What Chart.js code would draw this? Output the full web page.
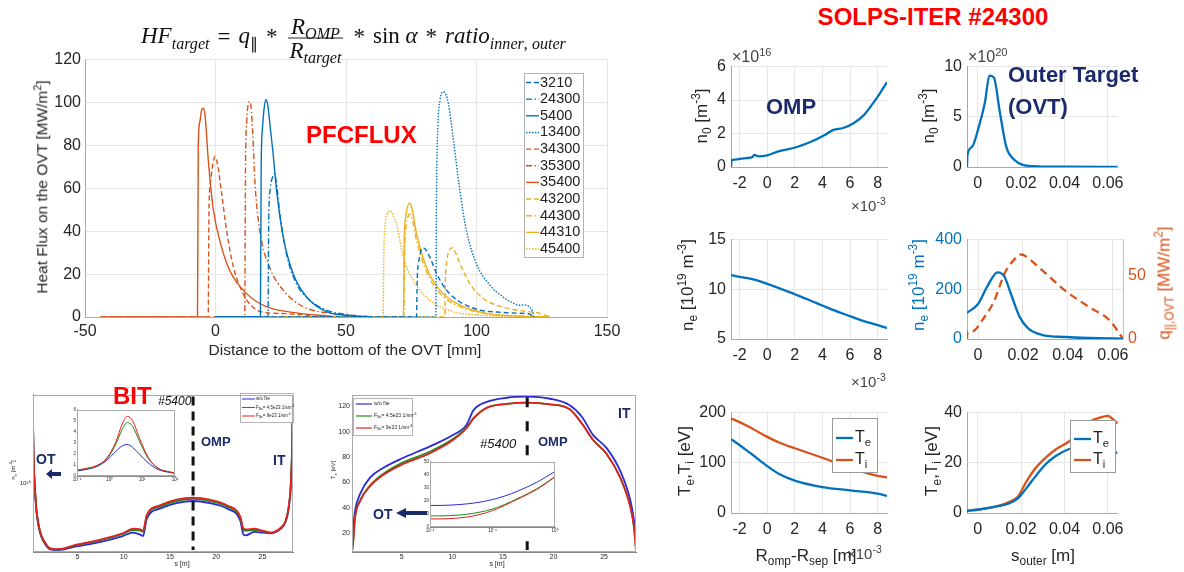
<!DOCTYPE html>
<html>
<head>
<meta charset="utf-8">
<title>PFCFLUX / SOLPS-ITER #24300</title>
<script src="https://cdn.jsdelivr.net/npm/chart.js@4.4.1/dist/chart.umd.min.js"></script>
<style>
  body { margin: 0; width: 1184px; height: 572px; background: #fff; position: relative; overflow: hidden;
         font-family: "Liberation Sans", Arial, sans-serif; color: #262626; }
  canvas { position: absolute; }
  .t { position: absolute; white-space: nowrap; line-height: 1; z-index: 5; }
  .c { transform: translate(-50%, -50%); }
  .v { transform: translate(-50%, -50%) rotate(-90deg); }
  .lm { transform: translateY(-50%); }
  sub, sup { font-size: 70%; line-height: 0; }
  .navy { color: #1b2a6b; font-weight: bold; }
  .red { color: #f00; font-weight: bold; }
  .frac { display: inline-block; vertical-align: middle; text-align: center; margin: 0 2px; }
  .frac > span { display: block; padding: 0 2px; }
  .frac > span:first-child { border-bottom: 1.2px solid #222; }
  .op { display: inline-block; margin: 0 8px; font-style: normal; }
</style>
</head>
<body>
<canvas id="hf"></canvas>
<canvas id="bitNe"></canvas>
<canvas id="bitNeIn"></canvas>
<canvas id="bitTe"></canvas>
<canvas id="bitTeIn"></canvas>
<canvas id="r1l"></canvas>
<canvas id="r1r"></canvas>
<canvas id="r2l"></canvas>
<canvas id="r2r"></canvas>
<canvas id="r3l"></canvas>
<canvas id="r3r"></canvas>

<!-- main chart text -->
<div class="t lm" style="left:141px;top:38px;font-family:'Liberation Serif',serif;font-size:23px;color:#111">
  <i>HF</i><sub><i>target</i></sub><span class="op">=</span><i>q</i><sub>∥</sub><span class="op">*</span><span class="frac"><span><i>R</i><sub><i>OMP</i></sub></span><span><i>R</i><sub><i>target</i></sub></span></span><span class="op">*</span>sin <i>α</i><span class="op">*</span><i>ratio</i><sub><i>inner</i>, <i>outer</i></sub>
</div>
<div class="t lm red" style="left:306px;top:135px;font-size:24px">PFCFLUX</div>
<div class="t v" style="left:42px;top:187px;font-size:15.5px">Heat Flux on the OVT [MW/m<sup>2</sup>]</div>
<div class="t c" style="left:345px;top:350px;font-size:15.5px">Distance to the bottom of the OVT [mm]</div>

<!-- bottom-left panels text -->
<div class="t lm red" style="left:113px;top:396px;font-size:24px">BIT</div>
<div class="t lm" style="left:158px;top:401px;font-size:12px;font-style:italic;color:#111">#5400</div>
<div class="t lm navy" style="left:201px;top:441px;font-size:13px">OMP</div>
<div class="t lm navy" style="left:36px;top:459px;font-size:14px">OT</div>
<div class="t lm navy" style="left:273px;top:460px;font-size:14px">IT</div>
<svg class="t" style="left:46px;top:469px" width="15" height="10"><polygon points="0,5 6,0 6,3 15,3 15,7 6,7 6,10" fill="#1b2a6b"/></svg>
<div class="t v" style="left:13px;top:470px;font-size:6px">n<sub>e</sub> [m<sup>-3</sup>]</div>
<div class="t c" style="left:182px;top:563px;font-size:7px">s [m]</div>

<div class="t lm" style="left:480px;top:443px;font-size:13px;font-style:italic;color:#111">#5400</div>
<div class="t lm navy" style="left:538px;top:441px;font-size:13px">OMP</div>
<div class="t lm navy" style="left:618px;top:413px;font-size:14px">IT</div>
<div class="t lm navy" style="left:373px;top:514px;font-size:14px">OT</div>
<svg class="t" style="left:396px;top:508px" width="31" height="10"><polygon points="0,5 10,0 10,3 31,3 31,7 10,7 10,10" fill="#1b2a6b"/></svg>
<div class="t v" style="left:333px;top:470px;font-size:6px">T<sub>e</sub> [eV]</div>
<div class="t c" style="left:497px;top:563px;font-size:7px">s [m]</div>

<!-- right side text -->
<div class="t c red" style="left:933px;top:17px;font-size:24px">SOLPS-ITER #24300</div>
<div class="t lm navy" style="left:766px;top:107px;font-size:22px">OMP</div>
<div class="t lm navy" style="left:1008px;top:75px;font-size:22px">Outer Target</div>
<div class="t lm navy" style="left:1008px;top:107px;font-size:22px">(OVT)</div>
<div class="t lm" style="left:732px;top:57px;font-size:16px;color:#444">×10<sup>16</sup></div>
<div class="t lm" style="left:968px;top:57px;font-size:16px;color:#444">×10<sup>20</sup></div>
<div class="t lm" style="left:851px;top:205px;font-size:15px;color:#444">×10<sup>-3</sup></div>
<div class="t lm" style="left:851px;top:381px;font-size:15px;color:#444">×10<sup>-3</sup></div>
<div class="t lm" style="left:847px;top:553px;font-size:15px;color:#444">×10<sup>-3</sup></div>
<div class="t v" style="left:701px;top:116px;font-size:17px">n<sub>0</sub> [m<sup>-3</sup>]</div>
<div class="t v" style="left:928px;top:116px;font-size:17px">n<sub>0</sub> [m<sup>-3</sup>]</div>
<div class="t v" style="left:687px;top:285px;font-size:17px">n<sub>e</sub> [10<sup>19</sup> m<sup>-3</sup>]</div>
<div class="t v" style="left:918px;top:285px;font-size:17px;color:#0072BD">n<sub>e</sub> [10<sup>19</sup> m<sup>-3</sup>]</div>
<div class="t v" style="left:1164px;top:283px;font-size:17px;color:#D95319">q<sub>||,OVT</sub> [MW/m<sup>2</sup>]</div>
<div class="t v" style="left:684px;top:461px;font-size:17px">T<sub>e</sub>,T<sub>i</sub> [eV]</div>
<div class="t v" style="left:931px;top:461px;font-size:17px">T<sub>e</sub>,T<sub>i</sub> [eV]</div>
<div class="t c" style="left:806px;top:555px;font-size:17px">R<sub>omp</sub>-R<sub>sep</sub> [m]</div>
<div class="t c" style="left:1043px;top:555px;font-size:17px">s<sub>outer</sub> [m]</div>

<script>
const F = '"Liberation Sans", Arial, sans-serif';
const BLUE = '#0072BD', ORANGE = '#D95319', YELLOW = '#EDB120';
const NBLUE = '#2b2bd6', NGREEN = '#1d8a1d', NRED = '#e32020';

// ---------- PFCFLUX: heat flux on the OVT (x mm, y MW/m2) ----------
const hfXTicks = [-50, 0, 50, 100, 150];
const hfYTicks = [0, 20, 40, 60, 80, 100, 120];

const hfX_3210  = [0, 77.0, 77.3, 77.8, 78.5, 79.4, 80.5, 82.2, 84.8, 88.6, 93.7, 101.4, 108, 115, 120, 122];
const hfY_3210  = [0, 0, 18, 25, 30, 32.3, 31.5, 27.7, 20, 12.4, 7, 3.2, 2.3, 1.8, 1.5, 0];
const hfX_24300 = [0, 20.1, 20.4, 21.0, 21.8, 22.5, 23.3, 24.7, 27.2, 31, 36.2, 42.5, 50, 60];
const hfY_24300 = [0, 0, 45, 60, 65, 66.8, 63, 47.7, 29.3, 15.5, 7.8, 3.2, 1.2, 0];
const hfX_5400  = [0, 17.2, 17.5, 18.0, 18.7, 19.3, 20.0, 21.0, 22.0, 23.5, 26, 29.8, 34.9, 42.5, 50, 60];
const hfY_5400  = [0, 0, 70, 88, 98, 101.3, 99, 88, 77, 58, 37, 20, 9.3, 2.5, 0.8, 0];
const hfX_13400 = [0, 84.4, 84.7, 85.2, 86.0, 87.3, 88.3, 89.2, 91.1, 93.7, 96.2, 100, 105, 110, 114, 116.5, 118.5, 120.5, 121.5, 122];
const hfY_13400 = [0, 0, 60, 89, 101, 105, 103.5, 99.7, 83, 58.4, 40, 24.7, 15, 9.5, 6.5, 5.5, 5.6, 4.5, 2.5, 0];
const hfX_34300 = [-44, -2.8, -2.5, -1.8, -0.9, -0.2, 0.8, 2.2, 4.3, 6.9, 9.4, 12, 15.8, 19.6, 28, 40];
const hfY_34300 = [0, 0, 50, 64, 72, 74.8, 71, 59, 40, 23, 14, 7.8, 3.2, 2, 1.5, 0.2];
const hfX_35300 = [-44, 11.2, 11.5, 12.0, 12.5, 13.0, 13.6, 14.3, 15.1, 17.0, 20.8, 26, 33.6, 43.8, 55];
const hfY_35300 = [0, 0, 70, 92, 99, 100.5, 98, 85, 63, 40, 23, 12.4, 4.8, 1.7, 0.3];
const hfX_35400 = [-44, -6.9, -6.6, -6.0, -5.3, -4.7, -4.0, -2.8, -0.9, 1.7, 5.5, 11.9, 19.5, 32.3, 45];
const hfY_35400 = [0, 0, 80, 91, 96.5, 97.3, 94, 73.7, 50.7, 35.4, 21.6, 10.9, 4.8, 1.7, 0.3];
const hfX_43200 = [0, 87.8, 88.1, 88.6, 89.4, 90.7, 92, 93.7, 97.5, 102.6, 107.7, 114, 120, 124, 128];
const hfY_43200 = [0, 0, 18, 26, 30.5, 32.3, 30, 24.7, 15.5, 8.6, 5.5, 3.5, 2.5, 1.8, 0];
const hfX_44300 = [0, 72.2, 72.5, 73.0, 73.7, 74.4, 75.3, 77.1, 80.9, 86, 93.7, 103.9, 115, 128];
const hfY_44300 = [0, 0, 32, 42, 46.5, 48, 46, 35.4, 21, 11, 4.8, 1.5, 0.5, 0];
const hfX_44310 = [0, 72.0, 72.3, 72.8, 73.5, 74.3, 75.2, 77.1, 80.9, 86, 93.7, 103.9, 115, 128];
const hfY_44310 = [0, 0, 35, 46, 51, 53, 51, 38.5, 23, 12.4, 5.5, 1.7, 0.5, 0];
const hfX_45400 = [0, 64.2, 64.5, 65.0, 65.8, 66.9, 68.0, 69.4, 72, 75.8, 82.2, 91, 100, 110, 128];
const hfY_45400 = [0, 0, 30, 43, 48, 49.5, 47.5, 43, 27.7, 17, 7.8, 2.5, 1, 0.3, 0];

// ---------- BIT #5400 (s in m) ----------
const bitLabels = ['w/o Ne', 'F_{Ne}= 4.5e23 1/sm^{-3}', 'F_{Ne}= 9e23 1/sm^{-3}'];
const neS = [0.2, 0.27, 0.4, 0.56, 0.8, 1.1, 1.55, 2.0, 2.9, 4.9, 7.4, 9.9, 11.0, 11.8, 12.1, 12.5, 13.9, 15.7, 17.5,
             19.3, 21.2, 22.6, 22.95, 23.2, 24.1, 25.0, 25.9, 27.0, 27.5, 27.8, 28.05, 28.2, 28.3];
const neNoNe = [3.55, 1.55, 0.92, 0.58, 0.42, 0.34, 0.29, 0.265, 0.26, 0.28, 0.305, 0.345, 0.37, 0.355, 0.345, 0.49, 0.6, 0.67, 0.70,
                0.67, 0.6, 0.47, 0.355, 0.35, 0.375, 0.37, 0.365, 0.4, 0.46, 0.58, 0.9, 1.9, 5.8];
const neNe45 = [3.6, 1.6, 0.94, 0.59, 0.43, 0.345, 0.295, 0.268, 0.263, 0.287, 0.316, 0.36, 0.39, 0.385, 0.375, 0.515, 0.625, 0.70, 0.73,
                0.70, 0.625, 0.5, 0.39, 0.385, 0.39, 0.38, 0.368, 0.405, 0.465, 0.59, 0.93, 1.95, 5.9];
const neNe9 = [3.64, 1.63, 0.95, 0.6, 0.44, 0.35, 0.3, 0.27, 0.265, 0.29, 0.32, 0.365, 0.4, 0.395, 0.385, 0.53, 0.64, 0.72, 0.75,
               0.72, 0.64, 0.51, 0.4, 0.395, 0.4, 0.385, 0.37, 0.41, 0.47, 0.6, 0.95, 2.0, 6.0];
const neInX = [0.1, 0.2, 0.4, 0.8, 1.5, 2.5, 3.5, 5, 8, 15, 30, 60, 100];
const neInNoNe = [0.45, 0.6, 0.85, 1.4, 2.2, 2.75, 2.85, 2.6, 2.0, 1.2, 0.6, 0.35, 0.25];
const neInNe45 = [0.5, 0.65, 0.9, 1.5, 2.8, 4.3, 4.85, 4.5, 3.2, 1.6, 0.7, 0.4, 0.28];
const neInNe9 = [0.55, 0.7, 0.95, 1.6, 3.0, 4.8, 5.4, 5.0, 3.5, 1.7, 0.72, 0.4, 0.28];

const teS = [0.09, 0.2, 0.39, 0.88, 1.87, 3.2, 5.0, 7.8, 10.1, 11.4, 12.1, 13.4, 15.4, 17.35, 19.65, 21.6, 22.8, 23.9, 25.25, 26.6, 27.6, 27.95, 28.15];
const teNoNe = [17, 24, 37.7, 50.7, 63.7, 71.5, 78.8, 88.4, 97.5, 105.3, 117, 123.5, 126.8, 127.6, 126, 120.9, 111.8, 97.5, 87, 68.9, 45.5, 30, 17];
const teNe45 = [5.5, 13, 32.5, 45.5, 57.5, 66.8, 75.2, 84.3, 94.4, 103, 110.7, 118.9, 122, 123, 121.6, 117.7, 106.5, 93.6, 82.4, 63.7, 40.3, 24.7, 6.5];
const teNe9 = [5, 12, 32, 45, 57, 66, 74, 83, 93.6, 102.7, 110.5, 118.8, 122, 123, 121.6, 117.7, 106.5, 93.6, 82.4, 63.7, 40.3, 24.7, 6.5];
const teInX = [0.01, 0.015, 0.02, 0.03, 0.05, 0.08, 0.12, 0.2, 0.3, 0.5, 0.7, 1.0];
const teInNoNe = [16.5, 16.5, 16.7, 17.2, 18.3, 20, 22, 25.5, 29, 34, 38, 42.5];
const teInNe45 = [8.5, 8.5, 8.7, 9.2, 10.5, 12.5, 15, 19.5, 23.5, 29, 33.5, 38.5];
const teInNe9 = [6.2, 6.2, 6.4, 7, 8.5, 11, 14, 19, 23, 28.5, 33, 38.5];

// ---------- SOLPS-ITER #24300 ----------
const ompXTicks = [-2, 0, 2, 4, 6, 8];          // x 1e-3 m
const ovtXTicks = [0, 0.02, 0.04, 0.06];        // m
const n0OmpX = [-2.62, -2.58, -2.5, -2.0, -1.5, -1.06, -0.95, -0.6, 0, 0.87, 2.1, 3.3, 4.1, 4.8, 5.5, 6.26, 7.0, 7.7, 8.2, 8.68];
const n0OmpY = [0, 0.4, 0.43, 0.48, 0.53, 0.6, 0.72, 0.64, 0.7, 0.95, 1.18, 1.55, 1.88, 2.22, 2.33, 2.62, 3.1, 3.85, 4.45, 5.07];
const n0OvtX = [-0.0049, -0.0047, -0.0026, 0.0004, 0.0034, 0.0054, 0.0075, 0.0102, 0.0132, 0.017, 0.0208, 0.028, 0.04, 0.0645];
const n0OvtY = [0, 1.2, 2.0, 3.9, 6.5, 9.1, 8.9, 5.5, 2.0, 0.7, 0.22, 0.07, 0.03, 0.02];
const neOmpX = [-2.62, -2.5, -1, 0, 1, 2, 3, 4, 5, 6, 7, 8, 8.68];
const neOmpY = [11.45, 11.4, 11.0, 10.55, 10.05, 9.5, 8.95, 8.37, 7.8, 7.3, 6.8, 6.4, 6.1];
const neOvtX = [-0.0049, 0.0, 0.0042, 0.0087, 0.0117, 0.0147, 0.0185, 0.0223, 0.0283, 0.039, 0.05, 0.0645];
const neOvtY = [105, 141, 213, 268, 252, 180, 89, 43, 17, 8, 4, 1.3];
const qOvtX = [-0.0049, -0.0047, -0.0026, 0.0019, 0.0072, 0.0117, 0.0147, 0.0193, 0.0208, 0.0283, 0.0389, 0.0495, 0.0585, 0.0623, 0.0645];
const qOvtY = [0, 6, 5.9, 14.8, 30, 51, 59.4, 66.3, 65.3, 54.3, 37.8, 25, 14.8, 5.9, 0];
const tOmpX = [-2.62, -2.5, -1.06, 0, 0.9, 2, 4, 6, 8, 8.68];
const teOmp = [147, 145, 116, 93.5, 77, 64.5, 51.6, 45, 38.7, 34.2];
const tiOmp = [188, 187, 168, 151.6, 140, 129, 110, 90, 74, 71];
const tOvtX = [-0.0049, 0, 0.0087, 0.0147, 0.0185, 0.0223, 0.0268, 0.0313, 0.0358, 0.0419, 0.048, 0.0525, 0.0555, 0.06, 0.0623, 0.0645];
const teOvt = [0.9, 1.3, 2.6, 3.9, 5.8, 9.7, 14.8, 19.4, 22.6, 25.4, 26.5, 26.2, 25.8, 24.9, 24.4, 23.9];
const tiOvt = [0.9, 1.3, 2.6, 4.5, 6.5, 12.3, 18, 22, 25.2, 28.4, 32.9, 36.8, 37.8, 38.7, 37.4, 35.7];

// ---------- helpers ----------
const pts = (xs, ys) => xs.map((x, i) => ({ x: x, y: ys[i] }));

function line(label, xs, ys, color, width, dash, extra) {
  return Object.assign({
    label: label, data: pts(xs, ys), borderColor: color, backgroundColor: color,
    borderWidth: width, borderDash: dash || [], pointRadius: 0, fill: false,
    cubicInterpolationMode: 'monotone'
  }, extra || {});
}

// draws "T_{e}" / "m^{-3}" style labels on a canvas
function rich(ctx, s, x, y, size, color) {
  ctx.fillStyle = color; ctx.textBaseline = 'middle'; ctx.textAlign = 'left';
  s.split(/([_^]\{[^}]*\})/).forEach(p => {
    if (!p) return;
    let t = p, sz = size, dy = 0;
    if (p[1] === '{' && p[0] === '_') { t = p.slice(2, -1); sz = size * 0.7; dy = size * 0.3; }
    if (p[1] === '{' && p[0] === '^') { t = p.slice(2, -1); sz = size * 0.7; dy = -size * 0.35; }
    ctx.font = sz + 'px ' + F;
    ctx.fillText(t, x, y + dy);
    x += ctx.measureText(t).width;
  });
}

const whiteBg = {
  id: 'whiteBg',
  beforeDraw(chart, args, o) {
    if (!o.on) return;
    chart.ctx.save(); chart.ctx.fillStyle = '#fff';
    chart.ctx.fillRect(0, 0, chart.width, chart.height); chart.ctx.restore();
  }
};
const frame = {
  id: 'frame',
  afterDraw(chart, args, o) {
    if (!o.color) return;
    const ca = chart.chartArea, ctx = chart.ctx;
    ctx.save(); ctx.strokeStyle = o.color; ctx.lineWidth = 1;
    ctx.strokeRect(Math.round(ca.left) + 0.5, Math.round(ca.top) + 0.5, Math.round(ca.width) - 1, Math.round(ca.height) - 1);
    ctx.restore();
  }
};
const vline = {
  id: 'vline',
  afterDatasetsDraw(chart, args, o) {
    if (o.value === undefined) return;
    const ca = chart.chartArea, ctx = chart.ctx, x = chart.scales.x.getPixelForValue(o.value);
    ctx.save(); ctx.strokeStyle = o.color; ctx.lineWidth = o.width; ctx.setLineDash(o.dash);
    ctx.beginPath(); ctx.moveTo(x, ca.top + 2); ctx.lineTo(x, ca.bottom - 2); ctx.stroke(); ctx.restore();
  }
};
// boxed legend at absolute page coordinates (MATLAB style)
const boxLegend = {
  id: 'boxLegend',
  afterDatasetsDraw(chart, args, o) {
    if (o.bx === undefined) return;
    const ctx = chart.ctx, ox = chart.canvas.offsetLeft, oy = chart.canvas.offsetTop;
    ctx.save();
    ctx.fillStyle = '#fff'; ctx.fillRect(o.bx - ox, o.by - oy, o.bw, o.bh);
    ctx.strokeStyle = o.edge || '#b5b5b5'; ctx.lineWidth = 1;
    ctx.strokeRect(Math.round(o.bx - ox) + 0.5, Math.round(o.by - oy) + 0.5, o.bw, o.bh);
    chart.data.datasets.forEach((d, i) => {
      const y = o.y0 - oy + i * o.dy;
      ctx.strokeStyle = d.borderColor; ctx.lineWidth = o.lw || d.borderWidth;
      ctx.setLineDash(d.borderDash || []);
      ctx.beginPath(); ctx.moveTo(o.x0 - ox, y); ctx.lineTo(o.x1 - ox, y); ctx.stroke();
      ctx.setLineDash([]);
      rich(ctx, d.label, o.tx - ox, y, o.size, '#222');
    });
    ctx.restore();
  }
};

function ax(type, min, max, ticks, size, pad, fmt, extra) {
  const e = extra || {};
  return {
    type: type, min: min, max: max, position: e.position,
    afterBuildTicks: s => { s.ticks = ticks.map(v => ({ value: v })); },
    grid: Object.assign({ color: '#e6e6e6', drawTicks: false }, e.grid || {}),
    border: Object.assign({ color: '#a9a9a9' }, e.border || {}),
    ticks: {
      autoSkip: false, maxRotation: 0, padding: pad, color: e.color || '#262626',
      font: { family: F, size: size }, callback: fmt || (v => String(+v.toFixed(3)))
    }
  };
}

// box = plot area [left, top, width, height] on the page; m = [left, right, top, bottom] margins
function mk(id, box, m, cfg) {
  const cv = document.getElementById(id);
  const w = box[2] + m[0] + m[1], h = box[3] + m[2] + m[3];
  cv.width = w; cv.height = h; cv.style.width = w + 'px'; cv.style.height = h + 'px';
  cv.style.left = (box[0] - m[0]) + 'px'; cv.style.top = (box[1] - m[2]) + 'px';
  const o = cfg.options;
  Object.assign(o, { responsive: false, animation: false, devicePixelRatio: 1, events: [] });
  o.layout = { padding: { left: 0, top: m[2], bottom: 0, right: o.scales.y2 ? 0 : m[1] } };
  o.scales.x.afterFit = s => { s.height = m[3]; };
  o.scales.y.afterFit = s => { s.width = m[0]; };
  if (o.scales.y2) o.scales.y2.afterFit = s => { s.width = m[1]; };
  o.plugins = Object.assign({ legend: { display: false }, tooltip: { enabled: false } }, o.plugins || {});
  cfg.plugins = [whiteBg, frame, vline, boxLegend];
  return new Chart(cv, cfg);
}

// ---------- PFCFLUX chart ----------
const DASH = { dash: [5, 3], dashdot: [6, 2.5, 1.5, 2.5], dot: [1.5, 1.5], solid: [] };
const hfSeries = [
  ['3210', hfX_3210, hfY_3210, BLUE, 'dash'],
  ['24300', hfX_24300, hfY_24300, BLUE, 'dashdot'],
  ['5400', hfX_5400, hfY_5400, BLUE, 'solid'],
  ['13400', hfX_13400, hfY_13400, BLUE, 'dot'],
  ['34300', hfX_34300, hfY_34300, ORANGE, 'dash'],
  ['35300', hfX_35300, hfY_35300, ORANGE, 'dashdot'],
  ['35400', hfX_35400, hfY_35400, ORANGE, 'solid'],
  ['43200', hfX_43200, hfY_43200, YELLOW, 'dash'],
  ['44300', hfX_44300, hfY_44300, YELLOW, 'dashdot'],
  ['44310', hfX_44310, hfY_44310, YELLOW, 'solid'],
  ['45400', hfX_45400, hfY_45400, YELLOW, 'dot']
];
mk('hf', [85, 56, 522, 261], [62, 20, 10, 40], {
  type: 'line',
  data: { datasets: hfSeries.map(s => line(s[0], s[1], s[2], s[3], 1.4, DASH[s[4]])) },
  options: {
    scales: { x: ax('linear', -50, 150, hfXTicks, 16, 5), y: ax('linear', 0, 120, hfYTicks, 16, 4) },
    plugins: { boxLegend: { bx: 524, by: 73, bw: 59, bh: 184, x0: 526, x1: 539, tx: 540, y0: 82.5, dy: 16.65, size: 14.5, lw: 1.4 } }
  }
});

// ---------- BIT panels ----------
const noGrid = { grid: { drawOnChartArea: false }, border: { color: '#888' } };
function bitSets(xs, a, b, c, w) {
  return [line(bitLabels[0], xs, a, NBLUE, w, [], { order: 2 }),
          line(bitLabels[1], xs, b, NGREEN, w, [], { order: 1 }),
          line(bitLabels[2], xs, c, NRED, w, [], { order: 0 })];
}
mk('bitNe', [33, 393, 260, 159], [30, 6, 4, 12], {
  type: 'line',
  data: { datasets: bitSets(neS, neNoNe, neNe45, neNe9, 1.8) },
  options: {
    scales: {
      x: ax('linear', 0.2, 28.3, [5, 10, 15, 20, 25], 7, 1, null, noGrid),
      y: ax('logarithmic', 0.25, 6, [1], 6, 2, () => '10¹⁹', noGrid)
    },
    plugins: {
      frame: { color: '#aaa' },
      vline: { value: 17.5, color: '#111', width: 3, dash: [9, 6] },
      boxLegend: { bx: 240, by: 393, bw: 53, bh: 29, x0: 242, x1: 255, tx: 256, y0: 399, dy: 8.5, size: 4.5, lw: 1 }
    }
  }
});
const logLab = { 0.01: '10⁻²', 0.1: '10⁻¹', 1: '10⁰', 10: '10¹', 100: '10²' };
mk('bitNeIn', [77, 409, 98, 67], [10, 5, 3, 7], {
  type: 'line',
  data: { datasets: bitSets(neInX, neInNoNe, neInNe45, neInNe9, 1) },
  options: {
    scales: {
      x: ax('logarithmic', 0.1, 100, [0.1, 1, 10, 100], 4.5, 1, v => logLab[v], noGrid),
      y: ax('linear', 0, 6, [0, 1, 2, 3, 4, 5, 6], 4.5, 1, null, noGrid)
    },
    plugins: { whiteBg: { on: true }, frame: { color: '#aaa' } }
  }
});
mk('bitTe', [352, 393, 284, 159], [20, 6, 4, 12], {
  type: 'line',
  data: { datasets: bitSets(teS, teNoNe, teNe45, teNe9, 1.8) },
  options: {
    scales: {
      x: ax('linear', 0.09, 28.15, [5, 10, 15, 20, 25], 7, 1, null, noGrid),
      y: ax('linear', 5, 128.8, [20, 40, 60, 80, 100, 120], 7, 2, null, noGrid)
    },
    plugins: {
      frame: { color: '#aaa' },
      vline: { value: 17.4, color: '#111', width: 3, dash: [10, 14] },
      boxLegend: { bx: 353, by: 398, bw: 59, bh: 37, x0: 356, x1: 372, tx: 374, y0: 404, dy: 12, size: 5, lw: 1.2 }
    }
  }
});
mk('bitTeIn', [430, 461, 125, 66], [10, 5, 3, 7], {
  type: 'line',
  data: { datasets: bitSets(teInX, teInNoNe, teInNe45, teInNe9, 1) },
  options: {
    scales: {
      x: ax('logarithmic', 0.01, 1, [0.01, 0.1, 1], 4.5, 1, v => logLab[v], noGrid),
      y: ax('linear', 0, 50, [0, 10, 20, 30, 40, 50], 4.5, 1, null, noGrid)
    },
    plugins: { whiteBg: { on: true }, frame: { color: '#aaa' } }
  }
});

// ---------- SOLPS-ITER panels ----------
const RM = [36, 8, 12, 30], RM2 = [36, 30, 12, 30];
const OMPX = [731, 156], OVTX = [967, 156];
mk('r1l', [OMPX[0], 64, OMPX[1], 103], RM, {
  type: 'line',
  data: { datasets: [line('n_{0}', n0OmpX, n0OmpY, BLUE, 2.3)] },
  options: { scales: { x: ax('linear', -2.62, 8.68, ompXTicks, 16, 7), y: ax('linear', 0, 6, [0, 2, 4, 6], 16, 5) } }
});
mk('r1r', [OVTX[0], 64, OVTX[1], 103], RM, {
  type: 'line',
  data: { datasets: [line('n_{0}', n0OvtX, n0OvtY, BLUE, 2.3)] },
  options: { scales: { x: ax('linear', -0.0049, 0.0645, ovtXTicks, 16, 7), y: ax('linear', 0, 10, [0, 5, 10], 16, 5) } }
});
mk('r2l', [OMPX[0], 237, OMPX[1], 102], RM, {
  type: 'line',
  data: { datasets: [line('n_{e}', neOmpX, neOmpY, BLUE, 2.3)] },
  options: { scales: { x: ax('linear', -2.62, 8.68, ompXTicks, 16, 7), y: ax('linear', 5, 15, [5, 10, 15], 16, 5) } }
});
mk('r2r', [OVTX[0], 237, OVTX[1], 102], RM2, {
  type: 'line',
  data: { datasets: [
    line('n_{e}', neOvtX, neOvtY, BLUE, 2.3, [], { yAxisID: 'y' }),
    line('q', qOvtX, qOvtY, ORANGE, 2.3, [8, 5], { yAxisID: 'y2' })
  ] },
  options: { scales: {
    x: ax('linear', -0.0049, 0.0645, ovtXTicks, 16, 7),
    y: ax('linear', 0, 400, [0, 200, 400], 16, 5, null, { color: BLUE, border: { color: '#8fbbe0' } }),
    y2: ax('linear', 0, 78, [0, 50], 16, 5, null,
           { position: 'right', color: ORANGE, grid: { drawOnChartArea: false }, border: { color: '#efb49a' } })
  } }
});
mk('r3l', [OMPX[0], 410, OMPX[1], 103], RM, {
  type: 'line',
  data: { datasets: [line('T_{e}', tOmpX, teOmp, BLUE, 2.3), line('T_{i}', tOmpX, tiOmp, ORANGE, 2.3)] },
  options: {
    scales: { x: ax('linear', -2.62, 8.68, ompXTicks, 16, 7), y: ax('linear', 0, 200, [0, 100, 200], 16, 5) },
    plugins: { boxLegend: { bx: 832, by: 418, bw: 45, bh: 54, x0: 836, x1: 853, tx: 855, y0: 438, dy: 22, size: 16, edge: '#9a9a9a' } }
  }
});
mk('r3r', [OVTX[0], 410, OVTX[1], 103], RM, {
  type: 'line',
  data: { datasets: [line('T_{e}', tOvtX, teOvt, BLUE, 2.3), line('T_{i}', tOvtX, tiOvt, ORANGE, 2.3)] },
  options: {
    scales: { x: ax('linear', -0.0049, 0.0645, ovtXTicks, 16, 7), y: ax('linear', 0, 40, [0, 20, 40], 16, 5) },
    plugins: { boxLegend: { bx: 1070, by: 420, bw: 45, bh: 52, x0: 1074, x1: 1091, tx: 1093, y0: 439, dy: 21, size: 16, edge: '#9a9a9a' } }
  }
});
</script>
</body>
</html>
